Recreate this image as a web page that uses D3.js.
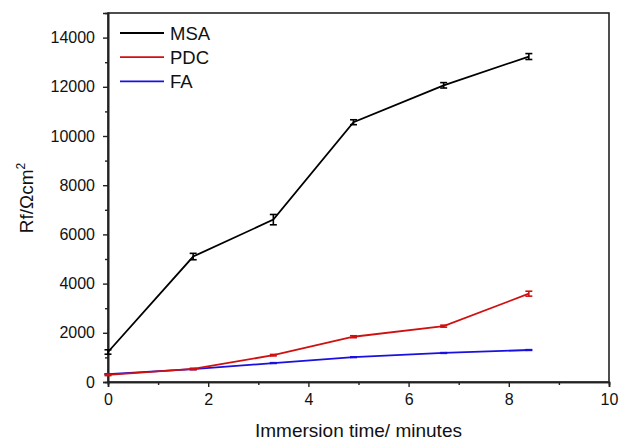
<!DOCTYPE html>
<html><head><meta charset="utf-8">
<script src="https://cdn.jsdelivr.net/npm/d3@7"></script>
<style>body{margin:0;background:#fff}svg{font-family:"Liberation Sans",Arial,sans-serif}</style>
</head><body><svg id="c" width="619" height="440"></svg>
<script>
const times = [0, 1.7, 3.3, 4.9, 6.7, 8.4];
const msa = [1220, 5100, 6600, 10560, 12060, 13230];
const msaErr = [90, 130, 210, 100, 110, 120];
const pdc = [290, 530, 1090, 1840, 2270, 3590];
const pdcErr = [30, 30, 30, 40, 40, 100];
const fa = [320, 520, 770, 1010, 1180, 1300];
const faErr = [15, 15, 15, 15, 15, 15];
const seriesNames = ["MSA", "PDC", "FA"];
const seriesColors = ["#000000", "#d01010", "#1a10e0"];
const xTicks = [0, 2, 4, 6, 8, 10];
const yTicks = [0, 2000, 4000, 6000, 8000, 10000, 12000, 14000];

const svg = d3.select("#c");
const m = {l: 108, r: 609, t: 13, b: 382};
const x = d3.scaleLinear().domain([0, 10]).range([m.l, m.r]);
const y = d3.scaleLinear().domain([0, 15000]).range([m.b, m.t]);

// frame
svg.append("rect").attr("x", m.l).attr("y", m.t).attr("width", m.r - m.l).attr("height", m.b - m.t)
  .attr("fill", "none").attr("stroke", "#222").attr("stroke-width", 1.6);

// axes
const xAx = svg.append("g").attr("transform", `translate(0,${m.b})`)
  .call(d3.axisBottom(x).tickValues(xTicks).tickSize(5).tickPadding(7).tickFormat(d3.format("d")));
const xMin = svg.append("g").attr("transform", `translate(0,${m.b})`)
  .call(d3.axisBottom(x).tickValues(d3.range(1, 10, 2)).tickSize(3).tickFormat(""));
const yAx = svg.append("g").attr("transform", `translate(${m.l},0)`)
  .call(d3.axisLeft(y).tickValues(yTicks).tickSize(5).tickPadding(8).tickFormat(d3.format("d")));
const yMin = svg.append("g").attr("transform", `translate(${m.l},0)`)
  .call(d3.axisLeft(y).tickValues(d3.range(1000, 15000, 2000)).tickSize(3).tickFormat(""));
[xAx, xMin, yAx, yMin].forEach(g => {
  g.select(".domain").attr("stroke", "#222").attr("stroke-width", 1.6);
  g.selectAll(".tick line").attr("stroke", "#222").attr("stroke-width", 1.4);
  g.selectAll(".tick text").attr("font-size", 16).attr("fill", "#111")
    .attr("font-family", "Liberation Sans, Arial, sans-serif");
});

// series
const data = [[msa, msaErr], [pdc, pdcErr], [fa, faErr]];
const line = d3.line().x(d => x(d[0])).y(d => y(d[1]));
data.slice().reverse().forEach((s, ri) => {
  const i = data.length - 1 - ri;
  const pts = times.map((t, k) => [t, s[0][k], s[1][k]]);
  const col = seriesColors[i];
  svg.append("path").datum(pts).attr("d", line).attr("fill", "none")
    .attr("stroke", col).attr("stroke-width", 1.8);
  const eb = svg.append("g").attr("stroke", col).attr("stroke-width", 1.6);
  pts.forEach(p => {
    const x0 = x(p[0]), y1 = y(p[1] + p[2]), y2 = y(p[1] - p[2]);
    eb.append("line").attr("x1", x0).attr("x2", x0).attr("y1", y1).attr("y2", y2);
    eb.append("line").attr("x1", x0 - 3.5).attr("x2", x0 + 3.5).attr("y1", y1).attr("y2", y1);
    eb.append("line").attr("x1", x0 - 3.5).attr("x2", x0 + 3.5).attr("y1", y2).attr("y2", y2);
  });
});

// legend
seriesNames.forEach((n, i) => {
  const ly = 33 + i * 24.2;
  svg.append("line").attr("x1", 120).attr("x2", 164).attr("y1", ly).attr("y2", ly)
    .attr("stroke", seriesColors[i]).attr("stroke-width", 1.8);
  svg.append("text").attr("x", 170).attr("y", ly + 6.8).attr("font-size", 18.5).attr("fill", "#111").text(n);
});

// axis labels
svg.append("text").attr("x", x(5)).attr("y", 437).attr("text-anchor", "middle")
  .attr("font-size", 19).attr("fill", "#111").text("Immersion time/ minutes");
const yl = svg.append("text").attr("transform", "translate(33,198) rotate(-90)")
  .attr("text-anchor", "middle").attr("font-size", 19).attr("fill", "#111");
yl.append("tspan").text("Rf/Ωcm");
yl.append("tspan").attr("font-size", 12).attr("dy", -8).text("2");
</script></body></html>
